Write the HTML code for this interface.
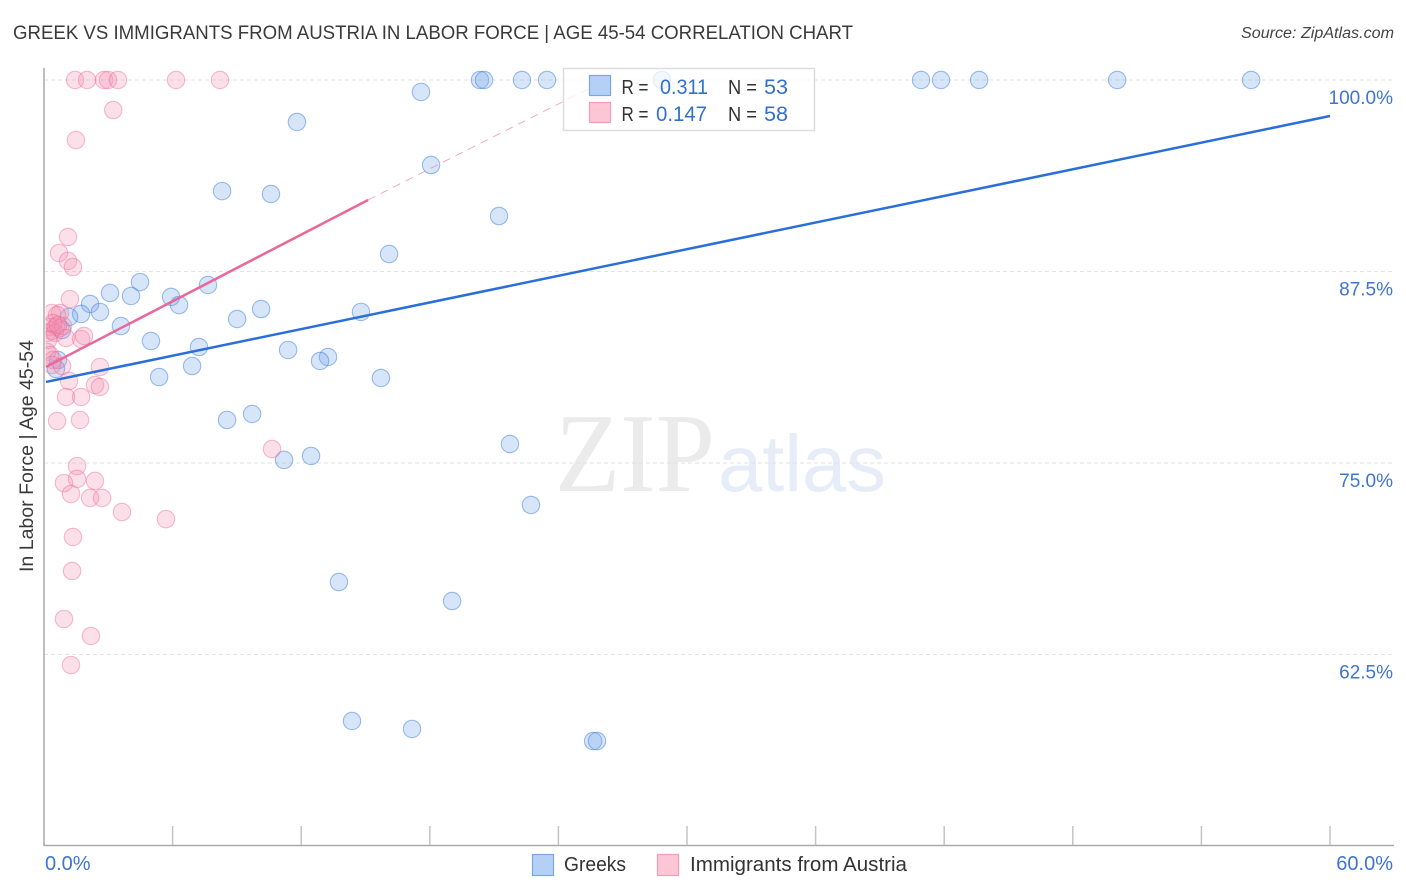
<!DOCTYPE html>
<html>
<head>
<meta charset="utf-8">
<title>Greek vs Immigrants from Austria in Labor Force | Age 45-54 Correlation Chart</title>
<style>
html,body{margin:0;padding:0;background:#fff;}
svg{display:block;font-family:"Liberation Sans",sans-serif;}
</style>
</head>
<body>
<svg id="chart" width="1406" height="892" viewBox="0 0 1406 892" xmlns="http://www.w3.org/2000/svg">
<defs>
<clipPath id="plot-clip"><rect x="45.5" y="60" width="1349" height="785"/></clipPath>
</defs>
<rect x="0" y="0" width="1406" height="892" fill="#ffffff"/>
<text x="13" y="39" font-size="19.5" fill="#3a3a3a" textLength="840" lengthAdjust="spacingAndGlyphs">GREEK VS IMMIGRANTS FROM AUSTRIA IN LABOR FORCE | AGE 45-54 CORRELATION CHART</text>
<text x="1241" y="38" font-size="15.5" font-style="italic" fill="#444" textLength="153" lengthAdjust="spacingAndGlyphs">Source: ZipAtlas.com</text>
<g>
<text x="555" y="491" font-family="'Liberation Serif',serif" font-size="112" fill="#ebebeb" textLength="160" lengthAdjust="spacingAndGlyphs">ZIP</text>
<text x="718" y="491" style="font-family:'Liberation Sans',sans-serif" font-size="80" fill="#e6edf9" textLength="168" lengthAdjust="spacingAndGlyphs">atlas</text>
</g>
<g id="grid"></g>
<g id="axes">
<line x1="44" y1="68" x2="44" y2="846" stroke="#aaaaaa" stroke-width="1.5"/>
<line x1="44" y1="845.5" x2="1394" y2="845.5" stroke="#aaaaaa" stroke-width="1.5"/>
</g>
<g id="points" clip-path="url(#plot-clip)"></g>
<g id="trends"></g>
<text transform="translate(33,456) rotate(-90)" font-size="19" fill="#3a3a3a" text-anchor="middle" textLength="232" lengthAdjust="spacingAndGlyphs">In Labor Force | Age 45-54</text>
<g id="labels"></g>
<g>
<rect x="563.5" y="68.5" width="251" height="62" fill="#ffffff" fill-opacity="0.72" stroke="#dddddd" stroke-width="1.5"/>
<rect x="589.5" y="75.5" width="21" height="20" fill="#b5d0f5" stroke="#7aa5e6" stroke-width="1.2"/>
<rect x="589.5" y="102.5" width="21" height="20" fill="#fcc6d6" stroke="#f19db8" stroke-width="1.2"/>
<text x="621.5" y="94" font-size="20" fill="#333" textLength="27" lengthAdjust="spacingAndGlyphs">R =</text>
<text x="660" y="94" font-size="21" fill="#3370cc" textLength="48" lengthAdjust="spacingAndGlyphs">0.311</text>
<text x="728" y="94" font-size="20" fill="#333" textLength="29" lengthAdjust="spacingAndGlyphs">N =</text>
<text x="764" y="94" font-size="21" fill="#3370cc" textLength="24" lengthAdjust="spacingAndGlyphs">53</text>
<text x="621.5" y="121" font-size="20" fill="#333" textLength="27" lengthAdjust="spacingAndGlyphs">R =</text>
<text x="656" y="121" font-size="21" fill="#3370cc" textLength="51" lengthAdjust="spacingAndGlyphs">0.147</text>
<text x="728" y="121" font-size="20" fill="#333" textLength="29" lengthAdjust="spacingAndGlyphs">N =</text>
<text x="764" y="121" font-size="21" fill="#3370cc" textLength="24" lengthAdjust="spacingAndGlyphs">58</text>
</g>
<g>
<rect x="532.5" y="854.5" width="21" height="21" fill="#b5d0f5" stroke="#7aa5e6" stroke-width="1.2"/>
<text x="564" y="871" font-size="20" fill="#333" textLength="62" lengthAdjust="spacingAndGlyphs">Greeks</text>
<rect x="657.5" y="854.5" width="21" height="21" fill="#fcc6d6" stroke="#f19db8" stroke-width="1.2"/>
<text x="690" y="871" font-size="20" fill="#333" textLength="217" lengthAdjust="spacingAndGlyphs">Immigrants from Austria</text>
</g>
</svg>
<script>
const xTickValues = [0, 6, 12, 18, 24, 30, 36, 42, 48, 54, 60];
const yTickValues = [100, 87.5, 75, 62.5];
const yTickLabels = ["100.0%", "87.5%", "75.0%", "62.5%"];
const xEndLabels = ["0.0%", "60.0%"];
const greeksX = [20.34,20.53,22.30,23.47,28.83,40.92,41.85,43.63,50.07,56.32,17.59,11.80,18.06,8.31,10.59,21.23,16.10,4.48,7.65,3.08,4.06,5.93,6.30,2.15,10.13,2.61,14.79,1.73,1.17,9.01,3.59,0.84,4.99,7.23,11.39,13.25,12.88,0.65,6.91,0.56,5.37,15.72,9.71,8.54,21.74,12.46,11.20,22.72,13.76,19.04,14.37,17.17,25.62,25.80];
const greeksY = [100,100,100,100,100,100,100,100,100,100,99.22,97.26,94.45,92.75,92.56,91.12,88.64,86.81,86.62,86.10,85.90,85.84,85.31,85.38,85.05,84.86,84.86,84.73,84.53,84.40,83.94,83.68,82.96,82.57,82.38,81.92,81.66,81.72,81.33,81.14,80.61,80.55,78.20,77.81,76.24,75.46,75.20,72.26,67.23,65.99,58.16,57.64,56.85,56.85];
const austriaX = [1.45,2.01,2.80,2.99,3.45,6.16,8.21,3.23,1.49,1.12,0.70,1.12,1.35,1.21,0.75,0.37,0.61,0.28,0.37,0.56,0.75,0.89,0.14,0.51,0.19,0.42,0.65,1.03,1.73,1.87,0.14,0.28,0.42,0.37,0.84,2.61,1.17,2.38,2.61,1.03,1.73,0.61,1.68,1.54,1.54,0.93,2.38,1.26,2.15,2.71,3.64,5.69,1.35,1.31,0.93,2.19,1.26,10.64];
const austriaY = [100,100,100,100,100,100,100,98.04,96.08,89.75,88.71,88.19,87.79,85.70,84.79,84.79,84.66,83.88,83.62,83.88,83.81,83.94,83.49,83.49,83.03,84.14,84.01,83.16,83.09,83.29,82.25,82.05,81.72,81.40,81.33,81.27,80.35,80.09,79.96,79.31,79.31,77.74,77.81,74.80,73.96,73.69,73.83,72.98,72.72,72.72,71.80,71.34,70.17,67.95,64.82,63.71,61.81,75.91];
const greeksTrendX = [0.09, 60];
const greeksTrendY = [80.29, 97.65];
const austriaTrendX = [0.09, 15.12];
const austriaTrendY = [81.27, 92.17];
const austriaDashX = [15.12, 25.48];
const austriaDashY = [92.17, 99.48];

const NS = "http://www.w3.org/2000/svg";
function xScale(v){ return 44 + v * (1286 / 60); }
function yScale(v){ return 80 + (100 - v) * 15.32; }
function make(tag, parent, attrs){
  const el = document.createElementNS(NS, tag);
  for (const k in attrs) el.setAttribute(k, attrs[k]);
  parent.appendChild(el);
  return el;
}
const gridG = document.getElementById("grid");
const axesG = document.getElementById("axes");
const pointsG = document.getElementById("points");
const trendsG = document.getElementById("trends");
const labelsG = document.getElementById("labels");

yTickValues.forEach(function(v, i){
  const line = make("line", gridG, {x1: 44, x2: 1394, y1: yScale(v), y2: yScale(v), stroke: "#e2e2e2", "stroke-width": 1, "stroke-dasharray": "4 3"});
  
  
  const label = make("text", labelsG, {x: 1393, y: yScale(v) + 24, "font-size": 19, fill: "#3f74d2", "text-anchor": "end"});
  label.textContent = yTickLabels[i];
  
  
});
xTickValues.forEach(function(v){
  if (v === 0) return;
  const tick = make("line", axesG, {x1: xScale(v), x2: xScale(v), y1: 826, y2: 845, stroke: "#c4c4c4", "stroke-width": 1.5});
  
  
});
const xLabelLeft = make("text", labelsG, {x: 45, y: 870, "font-size": 20, fill: "#3f74d2"});
xLabelLeft.textContent = xEndLabels[0];


const xLabelRight = make("text", labelsG, {x: 1393, y: 870, "font-size": 20, fill: "#3f74d2", "text-anchor": "end"});
xLabelRight.textContent = xEndLabels[1];



greeksX.forEach(function(v, i){
  const c = make("circle", pointsG, {cx: xScale(v), cy: yScale(greeksY[i]), r: 8.7, fill: "#6fa3ea", "fill-opacity": 0.28, stroke: "#3f7ddc", "stroke-opacity": 0.5, "stroke-width": 1.1});
  
  
});
austriaX.forEach(function(v, i){
  const c = make("circle", pointsG, {cx: xScale(v), cy: yScale(austriaY[i]), r: 8.7, fill: "#f590b0", "fill-opacity": 0.28, stroke: "#ea6a96", "stroke-opacity": 0.45, "stroke-width": 1.1});
  
  
});
const dash = make("line", trendsG, {x1: xScale(austriaDashX[0]), y1: yScale(austriaDashY[0]), x2: xScale(austriaDashX[1]), y2: yScale(austriaDashY[1]), stroke: "#e8739c", "stroke-width": 1, "stroke-dasharray": "8 6", "stroke-opacity": 0.6});


const aTrend = make("line", trendsG, {x1: xScale(austriaTrendX[0]), y1: yScale(austriaTrendY[0]), x2: xScale(austriaTrendX[1]), y2: yScale(austriaTrendY[1]), stroke: "#e8689a", "stroke-width": 2.5});


const gTrend = make("line", trendsG, {x1: xScale(greeksTrendX[0]), y1: yScale(greeksTrendY[0]), x2: xScale(greeksTrendX[1]), y2: yScale(greeksTrendY[1]), stroke: "#2a6fd8", "stroke-width": 2.5});


</script>
</body>
</html>
